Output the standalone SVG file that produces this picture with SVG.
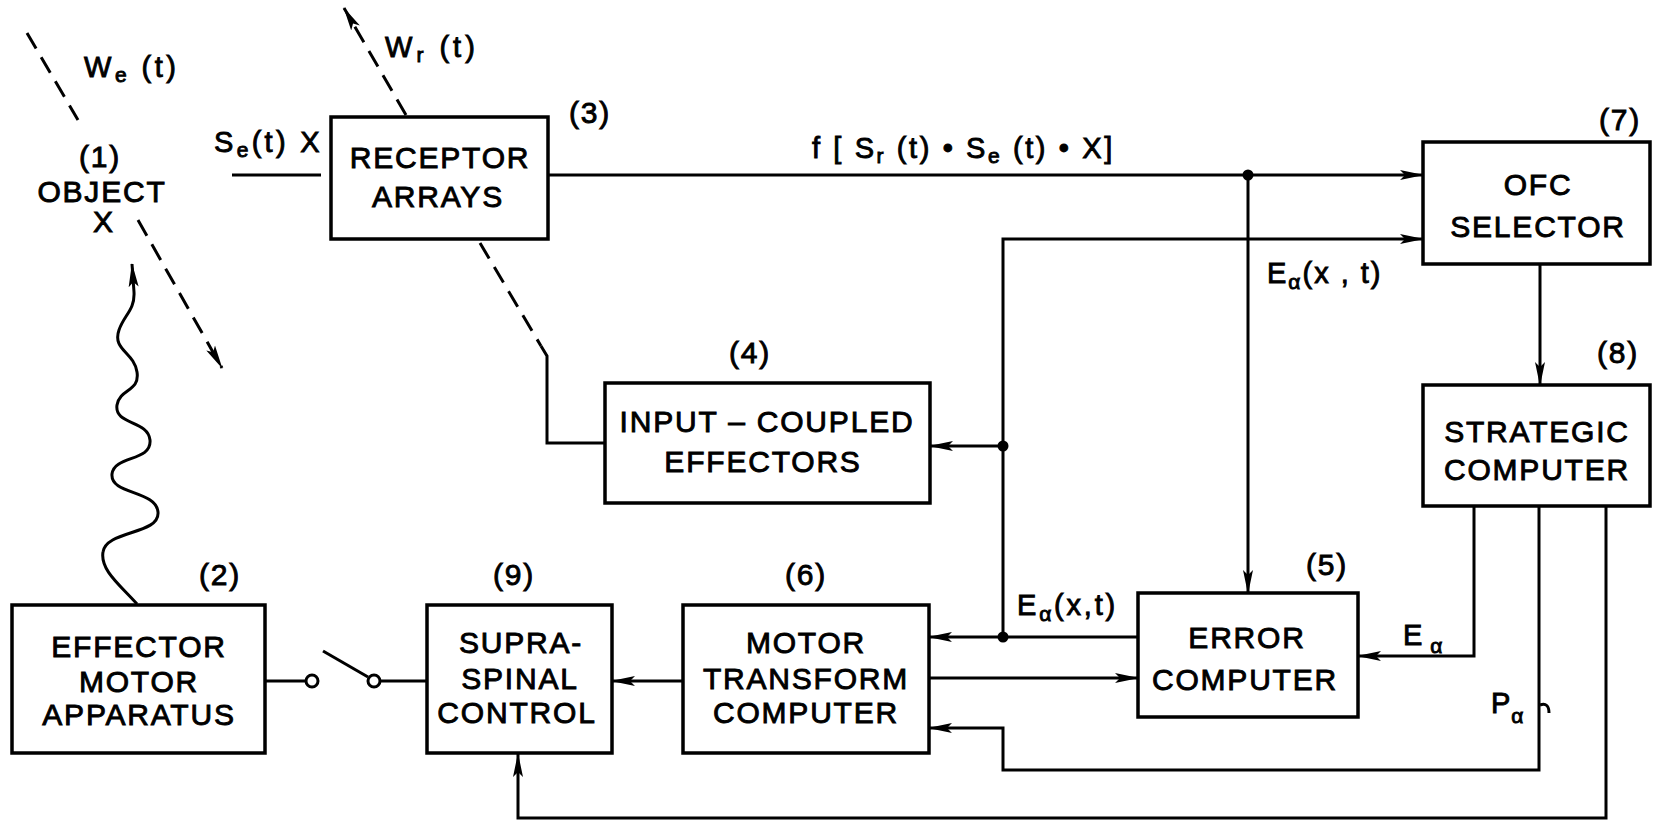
<svg xmlns="http://www.w3.org/2000/svg" width="1655" height="826" viewBox="0 0 1655 826">
<style>
.box{fill:#fff;stroke:#000;stroke-width:3.5}
.ln{fill:none;stroke:#000;stroke-width:3}
.dash{fill:none;stroke:#000;stroke-width:3;stroke-dasharray:18 10}
.t{font-family:"Liberation Sans",Arial,sans-serif;font-size:30px;fill:#000;stroke:#000;stroke-width:0.9;text-anchor:middle;letter-spacing:1.8px}
.l{font-family:"Liberation Sans",Arial,sans-serif;font-size:29px;fill:#000;stroke:#000;stroke-width:0.9}
.sub{font-size:21px}
.dot{fill:#000}
</style>
<defs>
<marker id="ah" viewBox="0 0 24 12" markerWidth="24" markerHeight="12" refX="23" refY="6" orient="auto" markerUnits="userSpaceOnUse">
<path d="M0,1 L24,6 L0,11 L5,6 z" fill="#000"/>
</marker>
</defs>
<rect width="1655" height="826" fill="#fff"/>

<g id="connectors">
<line class="dash" x1="27" y1="33" x2="78" y2="120"/>
<line class="dash" x1="138" y1="220" x2="222" y2="368" marker-end="url(#ah)"/>
<line class="dash" x1="406" y1="115" x2="344" y2="8" marker-end="url(#ah)"/>
<path class="ln" d="M137,604 C120,585 100,570 103,552 C106,530 160,535 158,512 C156,490 110,495 112,474 C114,455 152,462 150,440 C148,420 114,425 117,405 C120,388 140,392 137,372 C134,352 112,350 119,330 C124,315 135,310 134,292 L132,264" marker-end="url(#ah)"/>
<line class="ln" x1="232" y1="175" x2="321" y2="175"/>
<line class="ln" x1="549" y1="175" x2="1423" y2="175" marker-end="url(#ah)"/>
<circle class="dot" cx="1248" cy="175" r="5.5"/>
<line class="ln" x1="1248" y1="175" x2="1248" y2="593" marker-end="url(#ah)"/>
<polyline class="ln" points="1003,637 1003,239 1423,239" marker-end="url(#ah)"/>
<circle class="dot" cx="1003" cy="446" r="5.5"/>
<line class="ln" x1="1003" y1="446" x2="930" y2="446" marker-end="url(#ah)"/>
<line class="ln" x1="1138" y1="637" x2="1003" y2="637"/>
<circle class="dot" cx="1003" cy="637" r="5.5"/>
<line class="ln" x1="1003" y1="637" x2="929" y2="637" marker-end="url(#ah)"/>
<line class="dash" x1="480" y1="243" x2="541" y2="346"/>
<polyline class="ln" points="541,346 547,356 547,443 605,443"/>
<line class="ln" x1="1540" y1="264" x2="1540" y2="385" marker-end="url(#ah)"/>
<polyline class="ln" points="1474,506 1474,656 1358,656" marker-end="url(#ah)"/>
<polyline class="ln" points="1539,506 1539,770 1003,770 1003,728 929,728" marker-end="url(#ah)"/>
<path class="ln" d="M1540,705 Q1549,702 1549,713"/>
<polyline class="ln" points="1606,506 1606,818 518,818 518,754" marker-end="url(#ah)"/>
<line class="ln" x1="929" y1="678" x2="1138" y2="678" marker-end="url(#ah)"/>
<line class="ln" x1="683" y1="681" x2="612" y2="681" marker-end="url(#ah)"/>
<line class="ln" x1="265" y1="681" x2="306" y2="681"/>
<circle class="ln" cx="312" cy="681" r="6"/>
<line class="ln" x1="323" y1="651" x2="368" y2="677"/>
<circle class="ln" cx="374" cy="681" r="6"/>
<line class="ln" x1="380" y1="681" x2="427" y2="681"/>
</g>

<g id="labels">
<text class="l" x="84" y="77" letter-spacing="3.5">W<tspan class="sub" dy="5">e</tspan><tspan dy="-5"> (t)</tspan></text>
<text class="l" x="385" y="57" letter-spacing="4">W<tspan class="sub" dy="5">r</tspan><tspan dy="-5"> (t)</tspan></text>
<text class="l" x="214" y="152" letter-spacing="3.3">S<tspan class="sub" dy="5">e</tspan><tspan dy="-5">(t) X</tspan></text>
<text class="l" x="812" y="158" font-size="26" letter-spacing="2.6">f [ S<tspan class="sub" font-size="19" dy="5">r</tspan><tspan dy="-5"> (t) • S</tspan><tspan class="sub" font-size="19" dy="5">e</tspan><tspan dy="-5"> (t) • X]</tspan></text>
<text class="l" x="1267" y="283" letter-spacing="2">E<tspan class="sub" dy="6">α</tspan><tspan dy="-6">(x , t)</tspan></text>
<text class="l" x="1017" y="615" letter-spacing="2.8">E<tspan class="sub" dy="6">α</tspan><tspan dy="-6">(x,t)</tspan></text>
<text class="l" x="1403" y="645" letter-spacing="8">E<tspan class="sub" dy="8">α</tspan></text>
<text class="l" x="1491" y="713" letter-spacing="1">P<tspan class="sub" dy="10">α</tspan></text>
</g>

<g id="n1">
<text class="t" x="100" y="167">(1)</text>
<text class="t" x="102" y="202">OBJECT</text>
<text class="t" x="104" y="232">X</text>
</g>

<g id="n3">
<rect class="box" x="331" y="117" width="217" height="122"/>
<text class="t" x="440" y="168">RECEPTOR</text>
<text class="t" x="438" y="207">ARRAYS</text>
<text class="t" x="590" y="123">(3)</text>
</g>

<g id="n7">
<rect class="box" x="1423" y="142" width="227" height="122"/>
<text class="t" x="1538" y="195">OFC</text>
<text class="t" x="1538" y="237">SELECTOR</text>
<text class="t" x="1620" y="130">(7)</text>
</g>

<g id="n4">
<rect class="box" x="605" y="383" width="325" height="120"/>
<text class="t" x="767" y="432">INPUT – COUPLED</text>
<text class="t" x="763" y="472">EFFECTORS</text>
<text class="t" x="750" y="363">(4)</text>
</g>

<g id="n8">
<rect class="box" x="1423" y="385" width="227" height="121"/>
<text class="t" x="1537" y="442">STRATEGIC</text>
<text class="t" x="1537" y="480">COMPUTER</text>
<text class="t" x="1618" y="363">(8)</text>
</g>

<g id="n2">
<rect class="box" x="12" y="605" width="253" height="148"/>
<text class="t" x="139" y="657">EFFECTOR</text>
<text class="t" x="139" y="692">MOTOR</text>
<text class="t" x="139" y="725">APPARATUS</text>
<text class="t" x="220" y="585">(2)</text>
</g>

<g id="n9">
<rect class="box" x="427" y="605" width="185" height="148"/>
<text class="t" x="521" y="653">SUPRA-</text>
<text class="t" x="520" y="689">SPINAL</text>
<text class="t" x="517" y="723">CONTROL</text>
<text class="t" x="514" y="585">(9)</text>
</g>

<g id="n6">
<rect class="box" x="683" y="605" width="246" height="148"/>
<text class="t" x="806" y="653">MOTOR</text>
<text class="t" x="806" y="689">TRANSFORM</text>
<text class="t" x="806" y="723">COMPUTER</text>
<text class="t" x="806" y="585">(6)</text>
</g>

<g id="n5">
<rect class="box" x="1138" y="593" width="220" height="124"/>
<text class="t" x="1247" y="648">ERROR</text>
<text class="t" x="1245" y="690">COMPUTER</text>
<text class="t" x="1327" y="575">(5)</text>
</g>
</svg>
